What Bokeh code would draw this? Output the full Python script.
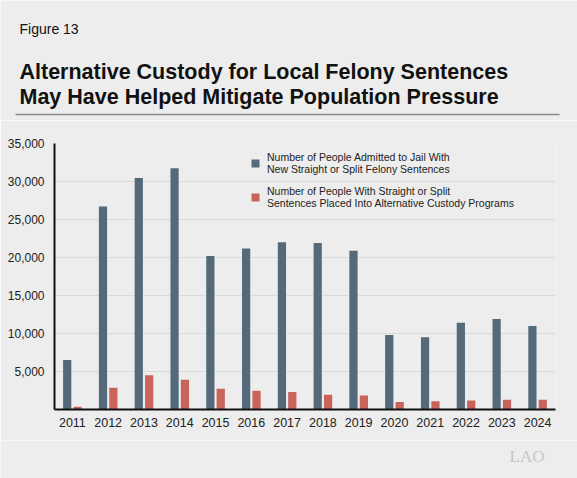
from bokeh.plotting import figure
from bokeh.layouts import column
from bokeh.models import (ColumnDataSource, FixedTicker, NumeralTickFormatter,
                          Legend, LegendItem, Range1d, FactorRange)
from bokeh.core.properties import value
from bokeh.transform import dodge
from bokeh.embed import file_html
from bokeh.resources import INLINE

# Local felony sentences, 2011-2024
years = ["2011", "2012", "2013", "2014", "2015", "2016", "2017",
         "2018", "2019", "2020", "2021", "2022", "2023", "2024"]
admitted = [6500, 26700, 30450, 31750, 20200, 21200, 22000,
            21900, 20900, 9800, 9500, 11400, 11900, 11000]
alternative_custody = [350, 2850, 4500, 3900, 2720, 2460, 2300,
                       1930, 1850, 1000, 1080, 1180, 1270, 1270]
y_ticks = [5000, 10000, 15000, 20000, 25000, 30000, 35000]

figure_number = "Figure 13"
title_lines = ["Alternative Custody for Local Felony Sentences",
               "May Have Helped Mitigate Population Pressure"]
label_admitted = "Number of People Admitted to Jail With\nNew Straight or Split Felony Sentences"
label_alt = "Number of People With Straight or Split\nSentences Placed Into Alternative Custody Programs"

BG = "#ecedec"
DARK = "#546a7b"
RED = "#c9645a"
FONT = "Liberation Sans"
W = 577


def blank(height):
    """A bare canvas whose data units are page pixels, y pointing down."""
    f = figure(width=W, height=height, x_range=Range1d(0, W),
               y_range=Range1d(height, 0), output_backend="svg",
               toolbar_location=None, min_border=0,
               min_border_left=0, min_border_right=0,
               min_border_top=0, min_border_bottom=0)
    f.axis.visible = False
    f.grid.visible = False
    f.outline_line_color = None
    f.background_fill_color = BG
    f.border_fill_color = BG
    return f


# header: figure number, two-line title and a rule
HEADER_H = 120
head = blank(HEADER_H)
head.text(x=[19], y=[28], text=[figure_number], text_font=value(FONT),
          text_font_size="14px", text_color="#111111",
          text_baseline="alphabetic")
head.text(x=[19, 19], y=[71, 96], text=title_lines,
          text_font=value(FONT), text_font_size="21.5px",
          text_font_style="bold", text_color="#111111",
          text_baseline="alphabetic")
head.segment(x0=[15], y0=[114], x1=[559], y1=[114],
             line_color="#8c8c8c", line_width=1.5)

# main bar chart
CHART_H = 320
source = ColumnDataSource(data=dict(year=years, admitted=admitted,
                                    alt=alternative_custody))

p = figure(width=W, height=CHART_H, x_range=FactorRange(*years),
           y_range=Range1d(0, 35000), output_backend="svg",
           toolbar_location=None,
           min_border_left=54, min_border_right=22,
           min_border_top=23, min_border_bottom=31)
p.background_fill_color = BG
p.border_fill_color = BG
p.outline_line_color = None
p.x_range.range_padding = 0

r1 = p.vbar(x=dodge("year", -0.145, range=p.x_range), top="admitted",
            width=0.23, source=source, fill_color=DARK, line_color=None)
r2 = p.vbar(x=dodge("year", 0.145, range=p.x_range), top="alt",
            width=0.23, source=source, fill_color=RED, line_color=None)

p.yaxis.ticker = FixedTicker(ticks=y_ticks)
p.yaxis.formatter = NumeralTickFormatter(format="0,0")
p.yaxis.axis_line_color = "#111111"
p.yaxis.axis_line_width = 2
p.yaxis.major_tick_line_color = None
p.yaxis.minor_tick_line_color = None
p.yaxis.major_label_standoff = 4
p.yaxis.major_label_text_font = FONT
p.yaxis.major_label_text_font_size = "12px"
p.yaxis.major_label_text_color = "#222222"

p.xaxis.axis_line_color = "#111111"
p.xaxis.axis_line_width = 2
p.xaxis.major_tick_line_color = None
p.xaxis.minor_tick_line_color = None
p.xaxis.major_label_standoff = 2
p.xaxis.major_label_text_font = FONT
p.xaxis.major_label_text_font_size = "12.5px"
p.xaxis.major_label_text_color = "#222222"

p.xgrid.grid_line_color = None
p.ygrid.ticker = FixedTicker(ticks=y_ticks)
p.ygrid.grid_line_color = "#d9dbda"
p.ygrid.grid_line_width = 1

legend = Legend(items=[LegendItem(label=label_admitted, renderers=[r1]),
                       LegendItem(label=label_alt, renderers=[r2])],
                location=(196, 200), orientation="vertical")
legend.background_fill_alpha = 0
legend.border_line_color = None
legend.label_text_font = FONT
legend.label_text_font_size = "10.5px"
legend.label_text_color = "#222222"
legend.label_text_line_height = 0.95
legend.glyph_width = 10
legend.glyph_height = 10
legend.label_standoff = 7
legend.spacing = 10
legend.padding = 5
legend.margin = 0
p.add_layout(legend, "center")

# footer with the office mark
FOOTER_H = 478 - HEADER_H - CHART_H
foot = blank(FOOTER_H)
foot.text(x=[509], y=[16], text=["LAO"],
          text_font=value("Liberation Serif"), text_font_size="17px",
          text_color="#c5c7c7", text_baseline="alphabetic")

# each canvas sits in its own box so the frames keep their own extents
layout = column(column(head), column(p), column(foot), spacing=0)
open("out.html", "w").write(file_html(layout, INLINE))
